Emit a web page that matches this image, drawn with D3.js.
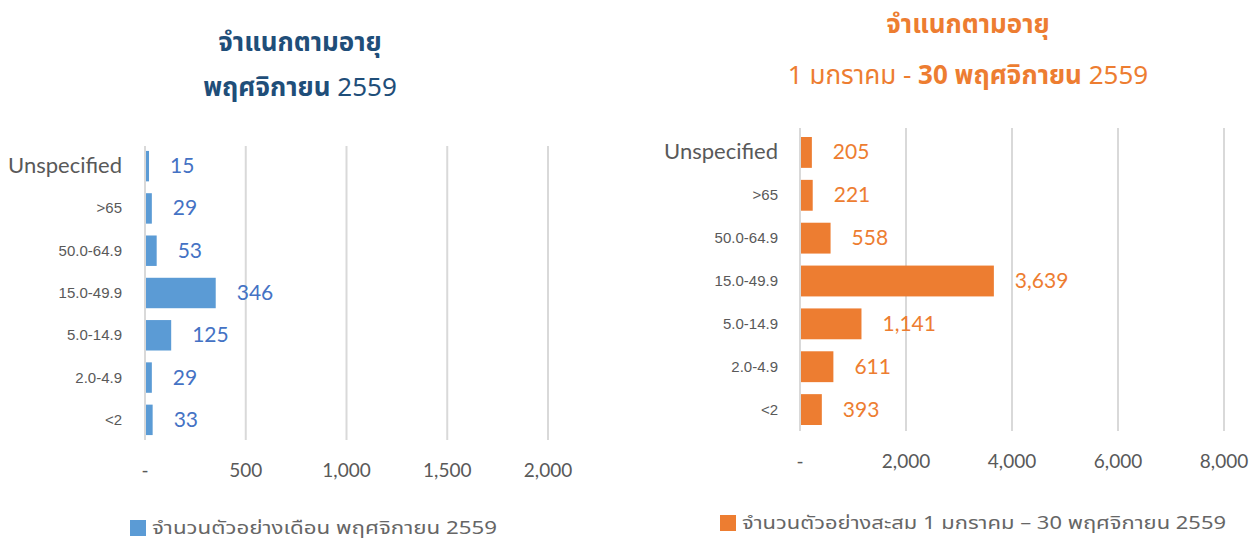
<!DOCTYPE html>
<html>
<head>
<meta charset="utf-8">
<script src="https://cdn.jsdelivr.net/npm/d3@7"></script>
<style>
  body { margin: 0; background: #fff; }
  svg { display: block; }
</style>
</head>
<body>
<div id="chart"></div>
<script>
// age groups, top to bottom
const ageGroups = ["Unspecified", ">65", "50.0-64.9", "15.0-49.9", "5.0-14.9", "2.0-4.9", "<2"];

// samples in November 2559
const novemberCounts = [15, 29, 53, 346, 125, 29, 33];
// cumulative samples 1 Jan - 30 Nov 2559
const cumulativeCounts = [205, 221, 558, 3639, 1141, 611, 393];

const novemberTicks = [0, 500, 1000, 1500, 2000];
const cumulativeTicks = [0, 2000, 4000, 6000, 8000];

const W = 1252, H = 542;
const svg = d3.select("#chart").append("svg").attr("width", W).attr("height", H);

const fmt = d3.format(",");
const tickFmt = v => v === 0 ? "-" : fmt(v);

function drawPanel(cfg) {
  const x = d3.scaleLinear().domain([0, cfg.max]).range([cfg.x0, cfg.x1]);
  const y = d3.scaleBand().domain(ageGroups).range([cfg.y0, cfg.y1]).paddingInner(0.28).paddingOuter(0.14);

  const g = svg.append("g");

  // gridlines
  g.selectAll("line.grid").data(cfg.ticks).join("line")
    .attr("x1", d => x(d)).attr("x2", d => x(d))
    .attr("y1", cfg.gridTop).attr("y2", cfg.gridBottom)
    .attr("stroke", "#d9d9d9").attr("stroke-width", 2);

  // x tick labels
  g.selectAll("text.tick").data(cfg.ticks).join("text")
    .attr("x", d => x(d)).attr("y", cfg.tickY)
    .attr("text-anchor", "middle")
    .attr("font-family", "Lato, 'Open Sans', sans-serif")
    .attr("font-size", 19).attr("fill", "#595959")
    .text(tickFmt);

  // bars
  const rows = ageGroups.map((a, i) => ({ age: a, value: cfg.values[i] }));
  g.selectAll("rect.bar").data(rows).join("rect")
    .attr("x", x(0) + 1)
    .attr("y", d => y(d.age))
    .attr("width", d => x(d.value) - x(0))
    .attr("height", y.bandwidth())
    .attr("fill", cfg.color);

  // value labels
  g.selectAll("text.val").data(rows).join("text")
    .attr("x", d => x(d.value) + 22)
    .attr("y", d => y(d.age) + y.bandwidth() / 2 + 7)
    .attr("font-family", "Lato, 'Open Sans', sans-serif")
    .attr("font-size", 21).attr("fill", cfg.labelColor)
    .text(d => fmt(d.value));

  // category labels
  g.selectAll("text.cat").data(rows).join("text")
    .attr("x", cfg.catX)
    .attr("y", d => y(d.age) + y.bandwidth() / 2 + (d.age === "Unspecified" ? 7 : 5))
    .attr("text-anchor", "end")
    .attr("font-family", d => d.age === "Unspecified" ? "Lato, 'Open Sans', sans-serif" : "'Liberation Sans', Arial, sans-serif")
    .attr("font-size", d => d.age === "Unspecified" ? 22 : 15)
    .attr("fill", "#595959")
    .text(d => d.age);

  // legend
  g.append("rect").attr("x", cfg.legX).attr("y", cfg.legY - 14)
    .attr("width", 16).attr("height", 16).attr("fill", cfg.color);
  g.append("text").attr("x", cfg.legX + 22).attr("y", cfg.legY)
    .attr("font-family", "'Noto Sans', 'Noto Sans Thai', sans-serif")
    .attr("font-size", 18).attr("fill", "#666")
    .attr("textLength", cfg.legendWidth).attr("lengthAdjust", "spacingAndGlyphs")
    .text(cfg.legend);

  // titles
  cfg.titles.forEach(t => {
    const tx = g.append("text").attr("x", cfg.titleX).attr("y", t.y)
      .attr("text-anchor", "middle")
      .attr("font-family", "'Noto Sans', 'Noto Sans Thai', sans-serif")
      .attr("font-size", 26).attr("fill", cfg.titleColor);
    t.parts.forEach(p => tx.append("tspan").attr("font-weight", p.bold ? "bold" : "normal").text(p.text));
  });
}

drawPanel({
  values: novemberCounts, ticks: novemberTicks, max: 2000,
  x0: 145, x1: 548, y0: 145, y1: 441, gridTop: 146, gridBottom: 440,
  tickY: 477, catX: 122,
  color: "#5B9BD5", labelColor: "#4472C4", titleColor: "#1F4E79",
  legX: 130, legY: 534,
  legend: "จำนวนตัวอย่างเดือน พฤศจิกายน 2559", legendWidth: 345,
  titleX: 300,
  titles: [
    { y: 51, parts: [{ text: "จำแนกตามอายุ", bold: true }] },
    { y: 96, parts: [{ text: "พฤศจิกายน ", bold: true }, { text: "2559", bold: false }] }
  ]
});

drawPanel({
  values: cumulativeCounts, ticks: cumulativeTicks, max: 8000,
  x0: 800, x1: 1224, y0: 131, y1: 431, gridTop: 128, gridBottom: 431,
  tickY: 468, catX: 778,
  color: "#ED7D31", labelColor: "#ED7D31", titleColor: "#ED7D31",
  legX: 720, legY: 529,
  legend: "จำนวนตัวอย่างสะสม 1 มกราคม – 30 พฤศจิกายน 2559", legendWidth: 484,
  titleX: 968,
  titles: [
    { y: 33, parts: [{ text: "จำแนกตามอายุ", bold: true }] },
    { y: 84, parts: [{ text: "1 มกราคม - ", bold: false }, { text: "30 พฤศจิกายน ", bold: true }, { text: "2559", bold: false }] }
  ]
});
</script>
</body>
</html>
